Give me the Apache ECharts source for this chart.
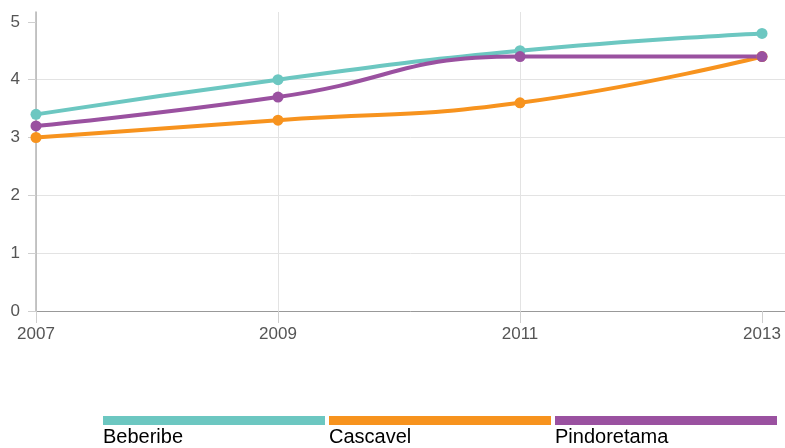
<!DOCTYPE html>
<html>
<head>
<meta charset="utf-8">
<script src="https://cdn.jsdelivr.net/npm/echarts@6/dist/echarts.min.js"></script>
<style>
  html, body { margin: 0; padding: 0; background: #fff; }
  #chart { width: 785px; height: 448px; }
</style>
</head>
<body>
<div id="chart"></div>
<script>
// 数据
const years = [2007, 2009, 2011, 2013];
const names = ["Beberibe", "Cascavel", "Pindoretama"];
const beberibe = [3.4, 4.0, 4.5, 4.8];
const cascavel = [3.0, 3.3, 3.6, 4.4];
const pindoretama = [3.2, 3.7, 4.4, 4.4];
const yTicks = [0, 1, 2, 3, 4, 5];
const colors = ["#6cc7c1", "#f7931e", "#9a51a0"];

const values = [beberibe, cascavel, pindoretama];
const font = "'Liberation Sans', Arial, sans-serif";

const chart = echarts.init(document.getElementById("chart"));

const series = names.map((name, i) => ({
  name,
  type: "line",
  smooth: true,
  data: years.map((y, j) => [y, values[i][j]]),
  symbol: "circle",
  symbolSize: 11,
  lineStyle: { width: 4, color: colors[i] },
  itemStyle: { color: colors[i] },
}));

// 底部图例：色条 + 文字
const legendGraphics = [];
names.forEach((name, i) => {
  const x = 103 + i * 226;
  legendGraphics.push({
    type: "rect",
    left: x,
    top: 416,
    shape: { width: 222, height: 9 },
    style: { fill: colors[i] },
  });
  legendGraphics.push({
    type: "text",
    x: x,
    y: 437,
    style: {
      text: name,
      fill: "#000",
      font: "20px " + font,
      verticalAlign: "middle",
      align: "left",
    },
  });
});

chart.setOption({
  animation: false,
  grid: { left: 36, right: 0, top: 12, bottom: 137, containLabel: false, outerBoundsMode: "none" },
  xAxis: {
    type: "value",
    min: 2007,
    max: 2013.19,
    interval: 2,
    axisLine: { show: true, lineStyle: { color: "#999", width: 1 } },
    axisTick: { show: true, length: 12, customValues: years, lineStyle: { color: "#cfcfcf" } },
    axisLabel: {
      customValues: years,
      margin: 15,
      color: "#555",
      fontSize: 17,
      fontFamily: font,
      formatter: (v) => String(v),
    },
    splitLine: { show: true, showMaxLine: false, lineStyle: { color: "#e3e3e3" } },
  },
  yAxis: {
    type: "value",
    min: 0,
    max: 5.17,
    interval: 1,
    axisLine: { show: true, onZero: false, lineStyle: { color: "#b5b5b5", width: 1.5 } },
    axisTick: { show: true, length: 8, customValues: yTicks, lineStyle: { color: "#cfcfcf" } },
    axisLabel: {
      customValues: yTicks,
      margin: 16,
      color: "#555",
      fontSize: 17,
      fontFamily: font,
    },
    splitLine: { show: true, showMaxLine: false, lineStyle: { color: "#e3e3e3" } },
  },
  series,
  graphic: legendGraphics,
});
</script>
</body>
</html>
